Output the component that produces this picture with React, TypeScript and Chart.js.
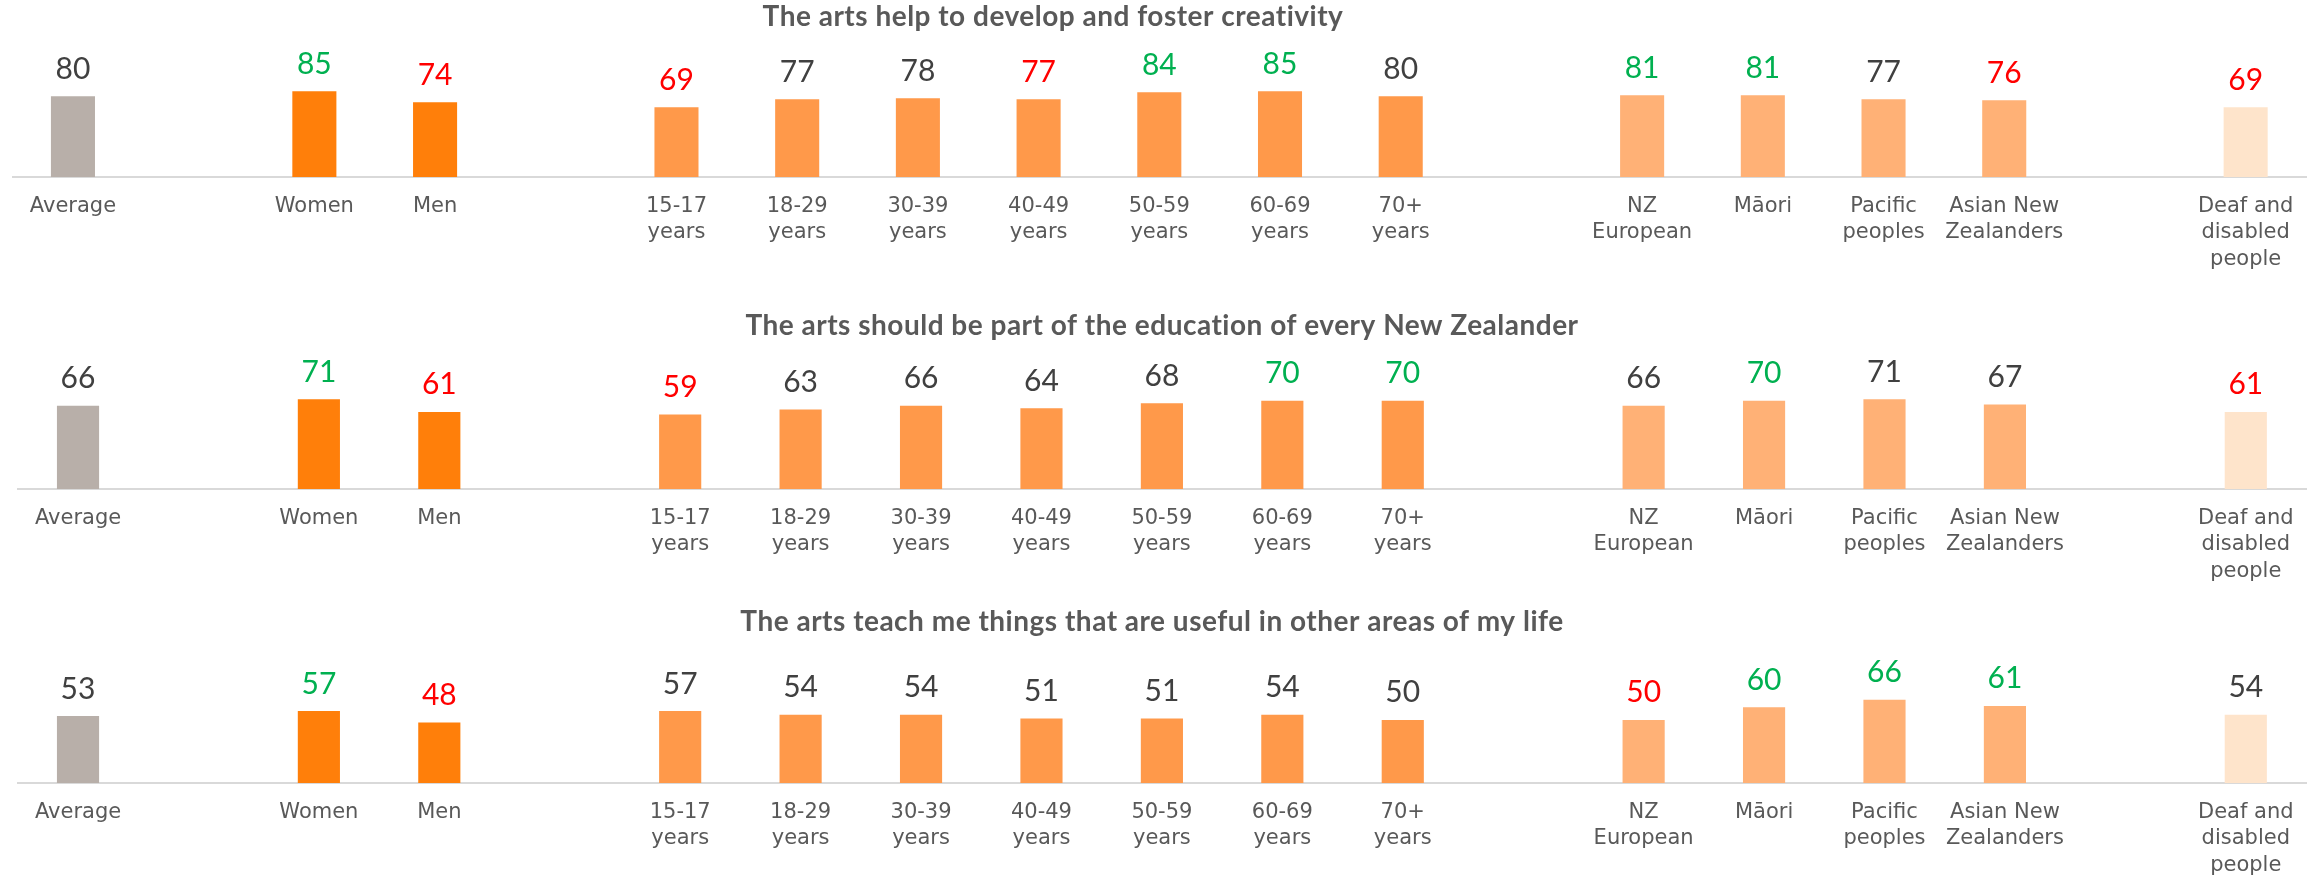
import React, { useEffect, useRef } from 'react';
import { Chart, registerables } from 'chart.js';

Chart.register(...registerables);

// ---------- data ----------
const categories: (string | string[])[] = [
  'Average', '', 'Women', 'Men', '',
  ['15-17', 'years'], ['18-29', 'years'], ['30-39', 'years'], ['40-49', 'years'],
  ['50-59', 'years'], ['60-69', 'years'], ['70+', 'years'], '',
  ['NZ', 'European'], 'Māori', ['Pacific', 'peoples'], ['Asian New', 'Zealanders'], '',
  ['Deaf and', 'disabled', 'people'],
];

const groups = [
  'avg', '', 'gender', 'gender', '',
  'age', 'age', 'age', 'age', 'age', 'age', 'age', '',
  'eth', 'eth', 'eth', 'eth', '',
  'dis',
];

const titles = [
  'The arts help to develop and foster creativity',
  'The arts should be part of the education of every New Zealander',
  'The arts teach me things that are useful in other areas of my life',
];

const creativityValues = [80, null, 85, 74, null, 69, 77, 78, 77, 84, 85, 80, null, 81, 81, 77, 76, null, 69];
const educationValues = [66, null, 71, 61, null, 59, 63, 66, 64, 68, 70, 70, null, 66, 70, 71, 67, null, 61];
const usefulValues = [53, null, 57, 48, null, 57, 54, 54, 51, 51, 54, 50, null, 50, 60, 66, 61, null, 54];

// significance flags: g = significantly higher, r = significantly lower, n = no difference
const creativityFlags = ['n', '', 'g', 'r', '', 'r', 'n', 'n', 'r', 'g', 'g', 'n', '', 'g', 'g', 'n', 'r', '', 'r'];
const educationFlags = ['n', '', 'g', 'r', '', 'r', 'n', 'n', 'n', 'n', 'g', 'g', '', 'n', 'g', 'n', 'n', '', 'r'];
const usefulFlags = ['n', '', 'g', 'r', '', 'n', 'n', 'n', 'n', 'n', 'n', 'n', '', 'r', 'g', 'g', 'g', '', 'n'];

// ---------- styles ----------
const groupColors: Record<string, string> = {
  avg: '#B8AFA9',
  gender: '#FF7F0A',
  age: '#FF994A',
  eth: '#FFB176',
  dis: '#FEE4CB',
  '': 'rgba(0,0,0,0)',
};
const flagColors: Record<string, string> = { g: '#00B050', r: '#FF0000', n: '#404040' };

const CANVAS_W = 2317;
const CANVAS_H = 287;
const AXIS_H = 110;

const panels = [
  { title: titles[0], values: creativityValues, flags: creativityFlags, top: 0, left: 12.6, yMax: 100, barPct: 0.365, titleX: 1053, titleY: 26 },
  { title: titles[1], values: educationValues, flags: educationFlags, top: 312, left: 17.8, yMax: 80, barPct: 0.35, titleX: 1162, titleY: 23 },
  { title: titles[2], values: usefulValues, flags: usefulFlags, top: 606, left: 17.8, yMax: 80, barPct: 0.35, titleX: 1152, titleY: 25 },
];

const panelTextPlugin = {
  id: 'panelText',
  afterDatasetsDraw(chart: any, _args: any, opts: any) {
    const ctx = chart.ctx;
    ctx.save();
    // title
    ctx.font = 'bold 28px Lato';
    try {
      (ctx as any).letterSpacing = '0.5px';
    } catch (e) {
      /* ignore */
    }
    ctx.fillStyle = '#595959';
    ctx.textAlign = 'center';
    ctx.textBaseline = 'alphabetic';
    ctx.fillText(opts.title, opts.titleX, opts.titleY);
    try {
      (ctx as any).letterSpacing = '0px';
    } catch (e) {
      /* ignore */
    }
    // value labels
    const meta = chart.getDatasetMeta(0);
    const data = chart.data.datasets[0].data;
    ctx.font = '30px Lato';
    meta.data.forEach((bar: any, i: number) => {
      const v = data[i];
      if (v === null || v === undefined) return;
      ctx.fillStyle = flagColors[opts.flags[i]] || '#404040';
      ctx.fillText(String(v), bar.x, bar.y - 17.5);
    });
    ctx.restore();
  },
};

function Panel({ cfg }: { cfg: typeof panels[number] }) {
  const ref = useRef<HTMLCanvasElement | null>(null);
  useEffect(() => {
    if (!ref.current) return;
    const chart = new Chart(ref.current, {
      type: 'bar',
      data: {
        labels: categories as any,
        datasets: [
          {
            data: cfg.values as any,
            backgroundColor: groups.map((g) => groupColors[g]),
            barPercentage: cfg.barPct,
            categoryPercentage: 1,
          },
        ],
      },
      options: {
        animation: false,
        responsive: false,
        maintainAspectRatio: false,
        devicePixelRatio: 1,
        layout: { padding: { left: cfg.left, right: 11, top: 76, bottom: 0 } },
        plugins: {
          legend: { display: false },
          tooltip: { enabled: false },
          title: { display: false },
          panelText: { title: cfg.title, flags: cfg.flags, titleX: cfg.titleX, titleY: cfg.titleY },
        } as any,
        scales: {
          x: {
            grid: { display: false, drawTicks: false },
            border: { display: true, color: '#D9D9D9', width: 2 },
            ticks: {
              autoSkip: false,
              maxRotation: 0,
              minRotation: 0,
              padding: 16,
              color: '#595959',
              font: { family: 'DejaVu Sans', size: 21, lineHeight: 1.27 },
            },
            afterFit: (scale: any) => {
              scale.height = AXIS_H;
            },
          },
          y: { display: false, min: 0, max: cfg.yMax },
        },
      },
      plugins: [panelTextPlugin],
    });
    return () => chart.destroy();
  }, []);
  return (
    <canvas
      ref={ref}
      width={CANVAS_W}
      height={CANVAS_H}
      style={{ position: 'absolute', left: 0, top: cfg.top, width: CANVAS_W, height: CANVAS_H }}
    />
  );
}

export default function App() {
  return (
    <div
      style={{
        position: 'absolute',
        left: 0,
        top: 0,
        width: 2317,
        height: 879,
        overflow: 'hidden',
        background: '#FFFFFF',
      }}
    >
      {panels.map((p, i) => (
        <Panel key={i} cfg={p} />
      ))}
    </div>
  );
}
